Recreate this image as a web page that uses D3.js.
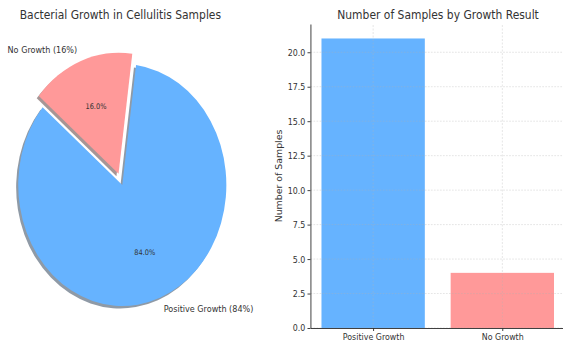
<!DOCTYPE html>
<html><head><meta charset="utf-8">
<script src="https://cdn.jsdelivr.net/npm/d3@7"></script>
<style>body{margin:0;background:#fff} svg{display:block}</style>
</head><body><svg id="c" width="563" height="344"></svg>
<script>
const categories = ["Positive Growth", "No Growth"];
const counts = [21, 4];
const colors = ["#66b3ff", "#ff9999"];
const explode = [0, 0.1];
const yTicks = [0, 2.5, 5, 7.5, 10, 12.5, 15, 17.5, 20];
const pieTitle = "Bacterial Growth in Cellulitis Samples";
const barTitle = "Number of Samples by Growth Result";
const yLabel = "Number of Samples";

const SX = 0.86;              // horizontal squeeze of the original figure
const font = "DejaVu Sans, sans-serif";
const textColor = "#333";
const svg = d3.select("#c");
const root = svg.append("g").attr("transform", `scale(${SX},1)`);

// ---------- PIE ----------
const total = d3.sum(counts);
const cx = 142.2, cy = 185, R = 121;
const deg = Math.PI / 180;
const startDeg = 140; // matplotlib startangle, counter-clockwise
const pie = d3.pie().sort(null)
  .startAngle((90 - startDeg) * deg)
  .endAngle((90 - startDeg - 360) * deg);
const arcs = pie(counts);
const arc = d3.arc().innerRadius(0).outerRadius(R);
const pieG = root.append("g").attr("transform", `translate(${cx},${cy})`);

function shade(c) {
  const k = d3.rgb(c);
  return d3.rgb(k.r * 0.3, k.g * 0.3, k.b * 0.3).toString();
}

arcs.forEach((a, i) => {
  const m = (a.startAngle + a.endAngle) / 2;
  const ex = explode[i] * R * Math.sin(m);
  const ey = -explode[i] * R * Math.cos(m);
  // shadow
  pieG.append("path").attr("d", arc(a))
    .attr("transform", `translate(${ex - 0.02 * R},${ey + 0.02 * R})`)
    .attr("fill", shade(colors[i])).attr("fill-opacity", 0.5);
  pieG.append("path").attr("d", arc(a))
    .attr("transform", `translate(${ex},${ey})`)
    .attr("fill", colors[i]);
});

arcs.forEach((a, i) => {
  const m = (a.startAngle + a.endAngle) / 2;
  const ex = explode[i] * R * Math.sin(m);
  const ey = -explode[i] * R * Math.cos(m);
  const pct = counts[i] / total * 100;
  const lx = ex + 1.1 * R * Math.sin(m), ly = ey - 1.1 * R * Math.cos(m);
  pieG.append("text").attr("x", lx).attr("y", ly)
    .attr("text-anchor", lx < 0 ? "end" : "start")
    .attr("dominant-baseline", "central")
    .attr("font-family", font).attr("font-size", 9.4).attr("fill", textColor)
    .text(`${categories[i]} (${Math.round(pct)}%)`);
  const px = ex + 0.6 * R * Math.sin(m), py = ey - 0.6 * R * Math.cos(m);
  pieG.append("text").attr("x", px).attr("y", py)
    .attr("text-anchor", "middle").attr("dominant-baseline", "central")
    .attr("font-family", font).attr("font-size", 7.7).attr("fill", textColor)
    .text(pct.toFixed(1) + "%");
});

root.append("text").attr("x", 140).attr("y", 19.5)
  .attr("text-anchor", "middle").attr("font-family", font)
  .attr("font-size", 12.5).attr("fill", textColor).text(pieTitle);

// ---------- BAR ----------
const x = d3.scaleLinear().domain([-0.485, 1.49]).range([361.05, 657.7]);
const y = d3.scaleLinear().domain([0, 22.05]).range([328, 24]);
const barG = root.append("g");

barG.selectAll("rect.bar").data(counts).join("rect").attr("class", "bar")
  .attr("x", (d, i) => x(i - 0.4))
  .attr("width", (d, i) => x(i + 0.4) - x(i - 0.4))
  .attr("y", d => y(d))
  .attr("height", d => y(0) - y(d))
  .attr("fill", (d, i) => colors[i]);

// grid (drawn over bars, faint)
const gridG = barG.append("g").attr("stroke", "#b0b0b0").attr("stroke-opacity", 0.45)
  .attr("stroke-width", 0.8).attr("stroke-dasharray", "2,1.5");
yTicks.forEach(t => {
  gridG.append("line").attr("x1", x.range()[0]).attr("x2", x.range()[1])
    .attr("y1", y(t)).attr("y2", y(t));
});
categories.forEach((c, i) => {
  gridG.append("line").attr("x1", x(i)).attr("x2", x(i))
    .attr("y1", y.range()[0]).attr("y2", y.range()[1]);
});

const yAxis = d3.axisLeft(y).tickValues(yTicks).tickFormat(d3.format(".1f"))
  .tickSize(3.5).tickSizeOuter(0).tickPadding(2.5);
const yg = barG.append("g").attr("transform", `translate(${x.range()[0]},0)`).call(yAxis);
yg.selectAll("text").attr("font-family", font).attr("font-size", 9.2).attr("fill", textColor);
yg.selectAll("line, path").attr("stroke", "#333");

const xAxis = d3.axisBottom(x).tickValues(categories.map((c, i) => i))
  .tickFormat(i => categories[i]).tickSize(3).tickSizeOuter(0).tickPadding(2);
const xg = barG.append("g").attr("transform", `translate(0,${y(0)})`).call(xAxis);
xg.selectAll("text").attr("font-family", font).attr("font-size", 9.2).attr("fill", textColor);
xg.selectAll("line, path").attr("stroke", "#333");

barG.append("text")
  .attr("transform", `translate(328,${(y.range()[0] + y.range()[1]) / 2}) rotate(-90)`)
  .attr("text-anchor", "middle").attr("font-family", font).attr("font-size", 9.4)
  .attr("fill", textColor).text(yLabel);

barG.append("text").attr("x", (x.range()[0] + x.range()[1]) / 2).attr("y", 19.5)
  .attr("text-anchor", "middle").attr("font-family", font)
  .attr("font-size", 12.5).attr("fill", textColor).text(barTitle);
</script></body></html>
